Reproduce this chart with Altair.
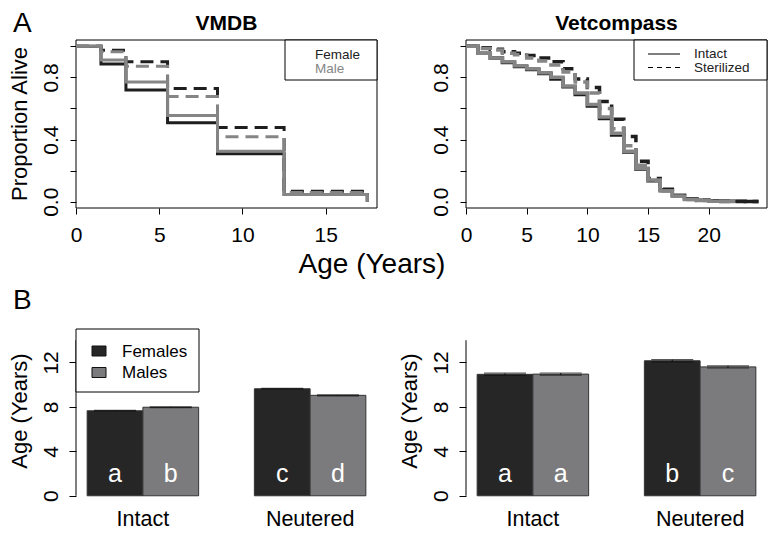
import altair as alt
import pandas as pd

FONT = "Liberation Sans"
BLACK = "#1e1e1e"
GRAY = "#858585"

# ---------------- Panel A : survival curves ----------------
# VMDB (step starts, years)
vm_age = [0, 1.5, 3, 5.5, 8.5, 12.5, 17.5]
vm_female_intact = [1.0, 0.886, 0.718, 0.508, 0.309, 0.046, 0.0]
vm_female_sterilized = [1.0, 0.974, 0.900, 0.728, 0.477, 0.067, 0.0]
vm_male_intact = [1.0, 0.911, 0.770, 0.554, 0.325, 0.046, 0.0]
vm_male_sterilized = [1.0, 0.965, 0.871, 0.676, 0.418, 0.060, 0.0]

# Vetcompass (yearly steps)
vc_age_f = list(range(0, 24)) + [24.1]
vc_age_m = list(range(0, 22)) + [22.2]
vc_female_intact = [1.00, 0.955, 0.925, 0.895, 0.87, 0.85, 0.825, 0.79, 0.74, 0.69, 0.615, 0.535,
                    0.43, 0.32, 0.21, 0.135, 0.075, 0.04, 0.02, 0.01, 0.006, 0.004, 0.003, 0.002, 0.002]
vc_female_sterilized = [1.00, 0.99, 0.98, 0.965, 0.955, 0.94, 0.925, 0.90, 0.855, 0.79, 0.735, 0.645,
                        0.53, 0.42, 0.26, 0.15, 0.08, 0.04, 0.02, 0.01, 0.005, 0.003, 0.002, 0.001, 0.001]
vc_male_intact = [1.00, 0.955, 0.925, 0.90, 0.875, 0.855, 0.83, 0.80, 0.745, 0.70, 0.625, 0.545,
                  0.44, 0.325, 0.215, 0.14, 0.07, 0.035, 0.015, 0.008, 0.004, 0.002, 0.002]
vc_male_sterilized = [1.00, 0.985, 0.975, 0.955, 0.945, 0.925, 0.905, 0.88, 0.835, 0.77, 0.70, 0.60,
                      0.47, 0.36, 0.235, 0.135, 0.07, 0.035, 0.015, 0.008, 0.004, 0.002, 0.002]

y_ticks_a = [0, 0.2, 0.4, 0.6, 0.8, 1.0]

# ---------------- Panel B : mean age at death ----------------
groups = ["Intact", "Neutered"]
sexes = ["Females", "Males"]
vm_mean = [7.65, 7.97, 9.63, 9.04]
vm_err = [0.04, 0.04, 0.04, 0.04]
vm_letters = ["a", "b", "c", "d"]
vc_mean = [10.93, 10.95, 12.15, 11.60]
vc_err = [0.10, 0.10, 0.10, 0.10]
vc_letters = ["a", "a", "b", "c"]
y_ticks_b = [0, 2, 4, 6, 8, 10, 12, 14]
axis_span_b = [0, 14]

W, H = 301, 168
GAP_X, GAP_Y = 89, 126
one = pd.DataFrame({"k": [0]})


def series_df(pairs):
    rows = []
    for name, xs, ys in pairs:
        for x, y in zip(xs, ys):
            rows.append({"age": x, "surv": y, "series": name})
    return pd.DataFrame(rows)


def surv_panel(df, xdom, xticks, lw, dash, title, legend_layers, extra=()):
    xenc = alt.X("age:Q", scale=alt.Scale(domain=xdom, nice=False, zero=False),
                 axis=alt.Axis(values=xticks, title=None, domain=False, grid=False, tickSize=6,
                               labelPadding=10, labelFontSize=21, labelAngle=0, labelFlush=False,
                               labelOverlap=False, format="d"))
    yenc = alt.Y("surv:Q", scale=alt.Scale(domain=[-0.04, 1.04], nice=False, zero=False),
                 axis=alt.Axis(values=y_ticks_a, title=None, domain=False, grid=False, tickSize=6,
                               labelAngle=270, labelAlign="center", labelBaseline="bottom",
                               labelPadding=9, labelFontSize=21, labelFlush=False, labelOverlap=False,
                               labelExpr="(round(datum.value*10) % 4 == 0) ? format(datum.value, '.1f') : ''"))
    styles = [("Female intact", BLACK, None), ("Female sterilized", BLACK, dash),
              ("Male intact", GRAY, None), ("Male sterilized", GRAY, dash)]
    layers = []
    for name, col, d in styles:
        kw = dict(interpolate="step-after", color=col, strokeWidth=lw, strokeCap="butt")
        if d is not None:
            kw["strokeDash"] = d
        layers.append(alt.Chart(df).transform_filter(alt.datum.series == name)
                      .mark_line(**kw).encode(x=xenc, y=yenc))
    frame = alt.Chart(one).mark_rect(fill="transparent", stroke="black", strokeWidth=1).encode(
        x=alt.value(0), x2=alt.value(W), y=alt.value(0), y2=alt.value(H))
    ttl = alt.Chart(one).mark_text(text=title, font=FONT, fontSize=21, fontWeight="bold",
                                   align="center", baseline="alphabetic", color="black").encode(
        x=alt.value(W / 2), y=alt.value(-10))
    return alt.layer(frame, *layers, ttl, *legend_layers, *extra).properties(width=W, height=H)


vm_df = series_df([("Female intact", vm_age, vm_female_intact),
                   ("Female sterilized", vm_age, vm_female_sterilized),
                   ("Male intact", vm_age, vm_male_intact),
                   ("Male sterilized", vm_age, vm_male_sterilized)])
vc_df = series_df([("Female intact", vc_age_f, vc_female_intact),
                   ("Female sterilized", vc_age_f, vc_female_sterilized),
                   ("Male intact", vc_age_m, vc_male_intact),
                   ("Male sterilized", vc_age_m, vc_male_sterilized)])


def txt(s, x, y, size, color="black", angle=0, align="left", baseline="alphabetic", weight="normal"):
    kw = dict(text=s, font=FONT, fontSize=size, color=color, align=align, baseline=baseline,
              fontWeight=weight)
    if angle:
        kw["angle"] = angle
    return alt.Chart(one).mark_text(**kw).encode(x=alt.value(x), y=alt.value(y))


def box(x0, x1, y0, y1, fill="white", stroke="black"):
    return alt.Chart(one).mark_rect(fill=fill, stroke=stroke, strokeWidth=1).encode(
        x=alt.value(x0), x2=alt.value(x1), y=alt.value(y0), y2=alt.value(y1))


anchor = alt.Chart(one).mark_rule(strokeOpacity=0, opacity=0).encode(
    x=alt.value(-67), x2=alt.value(-66), y=alt.value(-31), y2=alt.value(-30))

legA1 = [box(W - 92, W, 0, 40),
         txt("Female", W - 62, 19, 13.5, color="#222222"),
         txt("Male", W - 62, 33, 13.5, color=GRAY)]
extraA1 = [anchor,
           txt("A", -63, -8, 28),
           txt("Proportion Alive", -56, H / 2, 22, angle=270, align="center", baseline="middle"),
           txt("Age (Years)", 296, 233, 28, align="center")]

lx0 = W - 133
legA2 = [box(lx0, W, 0, 40),
         alt.Chart(one).mark_rule(color="black", strokeWidth=1).encode(
             x=alt.value(lx0 + 14), x2=alt.value(lx0 + 46), y=alt.value(14)),
         alt.Chart(one).mark_rule(color="black", strokeWidth=1, strokeDash=[5, 4]).encode(
             x=alt.value(lx0 + 14), x2=alt.value(lx0 + 46), y=alt.value(27.5)),
         txt("Intact", lx0 + 60, 18, 13.5, color="#222222"),
         txt("Sterilized", lx0 + 60, 32, 13.5, color="#222222")]

A1 = surv_panel(vm_df, [0, 18.08], [0, 5, 10, 15], 3, [13, 7], "VMDB", legA1, extraA1)
A2 = surv_panel(vc_df, [0, 24.8], [0, 5, 10, 15, 20], 3.5, [11, 6], "Vetcompass", legA2)


def bar_panel(means, errs, letters, extra=()):
    df = pd.DataFrame({
        "group": [g for g in groups for _ in sexes],
        "sex": sexes * len(groups),
        "mean": means,
        "lo": [m - e for m, e in zip(means, errs)],
        "hi": [m + e for m, e in zip(means, errs)],
        "letter": letters,
    })
    yscale = alt.Scale(domain=[-0.56, 14.56], nice=False, zero=False)
    yaxis = alt.Axis(values=y_ticks_b, title=None, domain=False, grid=False, tickSize=7,
                     labelAngle=270, labelAlign="center", labelBaseline="bottom", labelPadding=8,
                     labelFontSize=21, labelFlush=False, labelOverlap=False,
                     labelExpr="(datum.value % 4 == 0) ? datum.label : ''")
    xenc = alt.X("group:N", sort=groups,
                 scale=alt.Scale(paddingInner=1 / 3, paddingOuter=0.0667),
                 axis=alt.Axis(title=None, ticks=False, domain=False, labelAngle=0,
                               labelFontSize=21.5, labelPadding=6, labelBaseline="top"))
    xoff = alt.XOffset("sex:N", sort=sexes, scale=alt.Scale(paddingInner=0, paddingOuter=0))
    span = pd.DataFrame({"lo": [axis_span_b[0]], "hi": [axis_span_b[1]]})
    axis_line = alt.Chart(span).mark_rule(color="black", strokeWidth=1).encode(
        x=alt.value(0), y=alt.Y("lo:Q", scale=yscale, axis=yaxis), y2="hi:Q")
    bars = alt.Chart(df).mark_bar(stroke="#333333", strokeWidth=1).encode(
        x=xenc, xOffset=xoff, y=alt.Y("mean:Q", scale=yscale, axis=yaxis),
        color=alt.Color("sex:N", scale=alt.Scale(domain=sexes, range=["#262626", "#7b7b7d"]),
                        legend=None))
    err = alt.Chart(df).mark_rule(color="#111111", strokeWidth=1).encode(
        x=xenc, xOffset=xoff, y=alt.Y("lo:Q", scale=yscale, axis=yaxis), y2="hi:Q")
    cap_lo = alt.Chart(df).mark_tick(color="#111111", thickness=1.2, size=42).encode(
        x=xenc, xOffset=xoff, y=alt.Y("lo:Q", scale=yscale, axis=yaxis))
    cap_hi = alt.Chart(df).mark_tick(color="#111111", thickness=1.2, size=42).encode(
        x=xenc, xOffset=xoff, y=alt.Y("hi:Q", scale=yscale, axis=yaxis))
    lets = alt.Chart(df).mark_text(color="white", font=FONT, fontSize=25, align="center",
                                   baseline="alphabetic").encode(
        x=xenc, xOffset=xoff, y=alt.datum(1.2), text="letter:N")
    ytitle = txt("Age (Years)", -56, 77, 22, angle=270, align="center", baseline="middle")
    return alt.layer(axis_line, bars, err, cap_lo, cap_hi, lets, ytitle, *extra).properties(
        width=W, height=H)


legB = [box(0, 123, -5, 58),
        box(16, 30, 12, 22, fill="#262626", stroke="#111111"),
        box(16, 30, 33.5, 43.5, fill="#7b7b7d", stroke="#111111"),
        txt("Females", 46, 22.5, 17),
        txt("Males", 46, 43.5, 17),
        txt("B", -63, -25, 28)]

B1 = bar_panel(vm_mean, vm_err, vm_letters, legB)
B2 = bar_panel(vc_mean, vc_err, vc_letters)

# with flush bounds a nested row counts as zero height, so the row gap includes the panel height
chart = alt.vconcat(
    alt.hconcat(A1, A2, spacing=GAP_X, bounds="flush"),
    alt.hconcat(B1, B2, spacing=GAP_X, bounds="flush"),
    spacing=H + GAP_Y, bounds="flush",
).properties(padding=0).configure_view(stroke="transparent").configure_axis(
    labelFont=FONT, titleFont=FONT, labelColor="black", tickColor="black", tickWidth=1
)

chart.save("out.html", embed_options={"renderer": "svg", "actions": False})
